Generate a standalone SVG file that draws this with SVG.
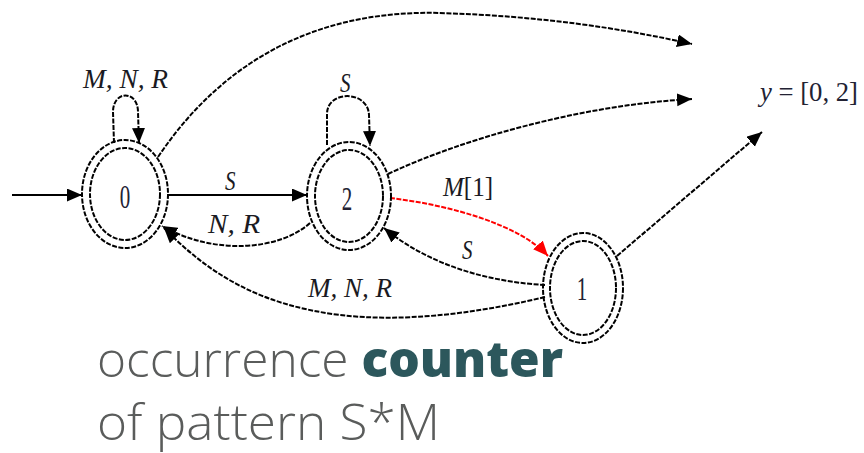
<svg xmlns="http://www.w3.org/2000/svg" width="864" height="453" viewBox="0 0 864 453">
<defs>
<marker id="ah" markerUnits="userSpaceOnUse" markerWidth="17" markerHeight="14" refX="15" refY="6.5" orient="auto">
<path d="M0,0 L15,6.5 L0,13 Z" fill="#000"/>
</marker>
<marker id="ahr" markerUnits="userSpaceOnUse" markerWidth="17" markerHeight="14" refX="15" refY="6.5" orient="auto">
<path d="M0,0 L15,6.5 L0,13 Z" fill="#f00"/>
</marker>
<style>
.ring{fill:none;stroke:#000;stroke-width:2;stroke-dasharray:5 1.5}
.e{fill:none;stroke:#000;stroke-width:2;marker-end:url(#ah)}
.d{stroke-dasharray:5 1.5}
.red{stroke:#f00;marker-end:url(#ahr)}
.m{font-family:"Liberation Serif",serif;font-style:italic;font-size:21px;fill:#1a1a22}
.n{font-family:"Liberation Serif",serif;font-size:21px;fill:#223;text-anchor:middle}
.t{font-family:"Open Sans",sans-serif;font-weight:300;font-size:49px;fill:#5a5c5b}
.b{font-weight:800;fill:#2c575c}
</style>
</defs>
<g id="connectors">
<path class="e" d="M12,195 L82,195"/>
<path class="e d" d="M114,143 L113,112 C113,90 138,90 138,112 L139,143"/>
<path class="e" d="M168,195 L307,195"/>
<path class="e d" d="M310,223 C280,250 215,256 162,226"/>
<path class="e d" d="M327,145 L327,114 C327,90 368,90 369,115 L370,146"/>
<path class="e d" d="M158,157 C230,50 330,10 440,13 C540,16 620,28 692,44"/>
<path class="e d" d="M388,174 C460,140 580,105 692,99"/>
<path class="e d red" d="M390,198 C450,205 520,225 548,256"/>
<path class="e d" d="M545,285 C490,282 430,266 384,228"/>
<path class="e d" d="M545,297 C470,315 400,322 340,315 C260,305 210,275 164,228"/>
<path class="e d" d="M617,256 L762,132"/>
</g>
<g id="labels">
<text class="m" transform="translate(83,88) scale(1,1.3)" textLength="85" lengthAdjust="spacingAndGlyphs">M, N, R</text>
<text class="m" transform="translate(340,92) scale(1,1.3)">S</text>
<text class="m" transform="translate(225,190) scale(1,1.3)">S</text>
<text class="m" transform="translate(208,233) scale(1,1.3)" textLength="52" lengthAdjust="spacingAndGlyphs">N, R</text>
<text class="m" transform="translate(443,196) scale(1,1.3)" textLength="50" lengthAdjust="spacingAndGlyphs">M<tspan font-style="normal">[1]</tspan></text>
<text class="m" transform="translate(462,259) scale(1,1.3)">S</text>
<text class="m" transform="translate(308,297) scale(1,1.3)" textLength="84" lengthAdjust="spacingAndGlyphs">M, N, R</text>
<text transform="translate(760,101) scale(1,1.3)" textLength="98" lengthAdjust="spacingAndGlyphs" style="font-family:'Liberation Serif',serif;font-size:21px;fill:#223"><tspan font-style="italic">y</tspan> = [0, 2]</text>
</g>
<g id="node0">
<ellipse class="ring" cx="125" cy="194" rx="43" ry="54"/>
<ellipse class="ring" cx="125" cy="194" rx="35" ry="46"/>
<text class="n" transform="translate(125,208) scale(1,1.6)">0</text>
</g>
<g id="node2">
<ellipse class="ring" cx="349" cy="196" rx="42" ry="54"/>
<ellipse class="ring" cx="349" cy="196" rx="34" ry="46"/>
<text class="n" transform="translate(347,210) scale(1,1.6)">2</text>
</g>
<g id="node1">
<ellipse class="ring" cx="583" cy="288" rx="40" ry="55"/>
<ellipse class="ring" cx="583" cy="288" rx="33" ry="47"/>
<text class="n" transform="translate(582,300) scale(1,1.6)">1</text>
</g>
<g id="caption">
<text class="t" x="97" y="377" textLength="466" lengthAdjust="spacingAndGlyphs">occurrence <tspan class="b">counter</tspan></text>
<text class="t" x="97" y="440" textLength="343" lengthAdjust="spacingAndGlyphs">of pattern S*M</text>
</g>
</svg>
